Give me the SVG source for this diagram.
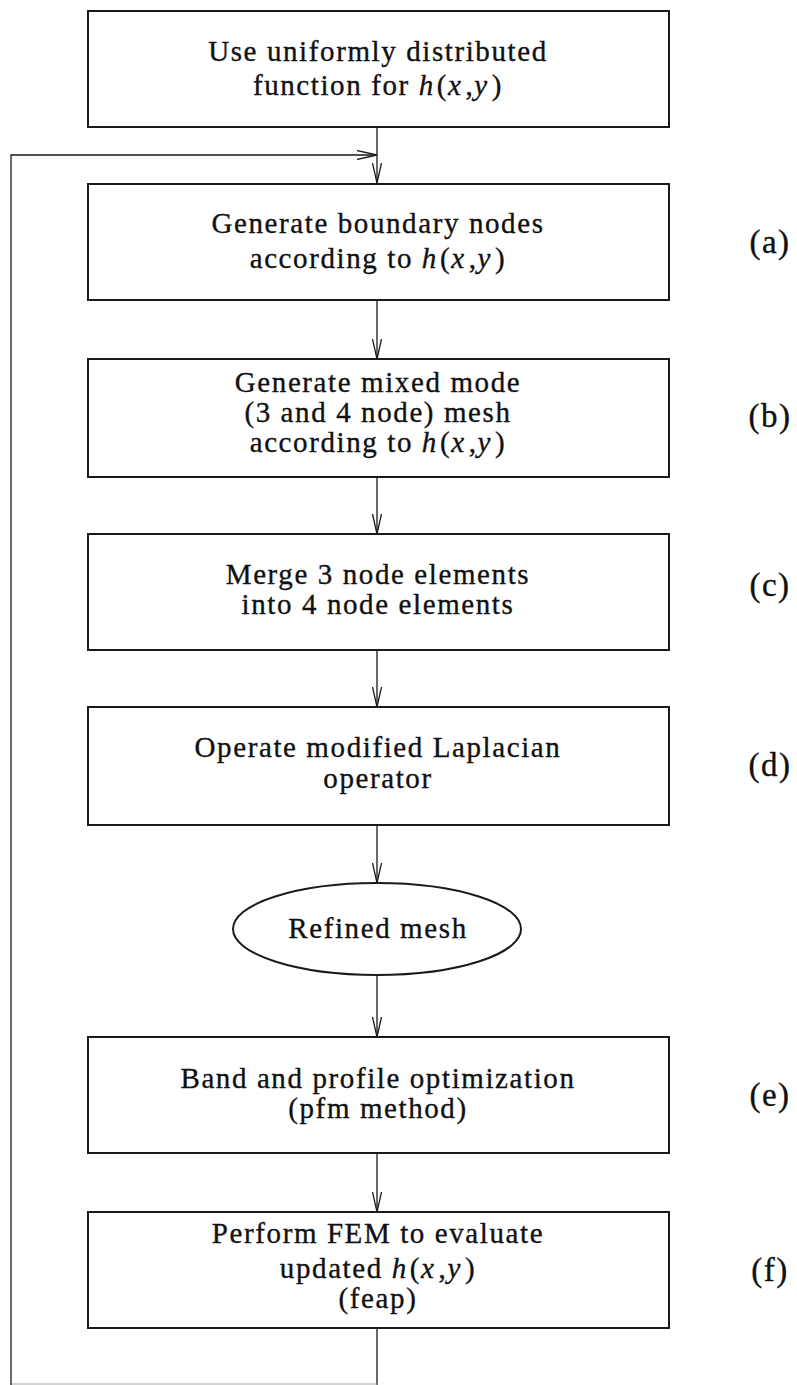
<svg xmlns="http://www.w3.org/2000/svg" width="797" height="1385" viewBox="0 0 797 1385">
  <style>
    .box { fill: #fff; stroke: #1a1a1a; stroke-width: 2; }
    .conn { fill: none; stroke: #1a1a1a; stroke-width: 1.3; }
    .faint { fill: none; stroke: #a8a8a8; stroke-width: 1.2; }
    .t { font-family: "Liberation Serif", "Times New Roman", serif; font-size: 29px; letter-spacing: 1.6px; fill: #111; stroke: #111; stroke-width: 0.35; text-anchor: middle; }
    .lbl { font-family: "Liberation Serif", "Times New Roman", serif; font-size: 33px; letter-spacing: 1.5px; fill: #111; stroke: #111; stroke-width: 0.35; text-anchor: middle; }
    .i { font-style: italic; }
  </style>
  <defs>
    <marker id="vee" viewBox="0 0 20 10" refX="20" refY="5" markerWidth="20" markerHeight="10" markerUnits="userSpaceOnUse" orient="auto">
      <path d="M0,0.5 L20,5 L0,9.5" fill="none" stroke="#1a1a1a" stroke-width="1.3"/>
    </marker>
  </defs>
  <rect width="797" height="1385" fill="#fff"/>

  <!-- connectors: main chain, then the feedback loop on the left -->
  <g id="connectors">
    <line class="conn" x1="377" y1="127" x2="377" y2="183" marker-end="url(#vee)"/>
    <line class="conn" x1="377" y1="300" x2="377" y2="359" marker-end="url(#vee)"/>
    <line class="conn" x1="377" y1="477" x2="377" y2="534" marker-end="url(#vee)"/>
    <line class="conn" x1="377" y1="650" x2="377" y2="707" marker-end="url(#vee)"/>
    <line class="conn" x1="377" y1="825" x2="377" y2="883" marker-end="url(#vee)"/>
    <line class="conn" x1="377" y1="975" x2="377" y2="1037" marker-end="url(#vee)"/>
    <line class="conn" x1="377" y1="1153" x2="377" y2="1212" marker-end="url(#vee)"/>
    <polyline class="conn" points="377,1328 377,1385"/>
    <line class="faint" x1="11" y1="1384" x2="377" y2="1384"/>
    <polyline class="conn" points="11,1385 11,155 377,155" marker-end="url(#vee)"/>
  </g>

  <g id="start">
    <rect class="box" x="88" y="11" width="581" height="116"/>
    <text class="t" x="378" y="61">Use uniformly distributed</text>
    <text class="t" x="378" y="95">function for <tspan class="i">h</tspan><tspan dx="2">(</tspan><tspan class="i">x</tspan><tspan dx="3">,</tspan><tspan class="i">y</tspan><tspan dx="3">)</tspan></text>
  </g>

  <g id="step-a">
    <rect class="box" x="88" y="184" width="581" height="116"/>
    <text class="t" x="378" y="233">Generate boundary nodes</text>
    <text class="t" x="378" y="268">according to <tspan class="i">h</tspan><tspan dx="2">(</tspan><tspan class="i">x</tspan><tspan dx="3">,</tspan><tspan class="i">y</tspan><tspan dx="3">)</tspan></text>
    <text class="lbl" x="770" y="253">(a)</text>
  </g>

  <g id="step-b">
    <rect class="box" x="88" y="359" width="581" height="118"/>
    <text class="t" x="378" y="392">Generate mixed mode</text>
    <text class="t" x="378" y="422">(3 and 4 node) mesh</text>
    <text class="t" x="378" y="452">according to <tspan class="i">h</tspan><tspan dx="2">(</tspan><tspan class="i">x</tspan><tspan dx="3">,</tspan><tspan class="i">y</tspan><tspan dx="3">)</tspan></text>
    <text class="lbl" x="770" y="427">(b)</text>
  </g>

  <g id="step-c">
    <rect class="box" x="88" y="534" width="581" height="116"/>
    <text class="t" x="378" y="584">Merge 3 node elements</text>
    <text class="t" x="378" y="614">into 4 node elements</text>
    <text class="lbl" x="770" y="596">(c)</text>
  </g>

  <g id="step-d">
    <rect class="box" x="88" y="707" width="581" height="118"/>
    <text class="t" x="378" y="757">Operate modified Laplacian</text>
    <text class="t" x="378" y="788">operator</text>
    <text class="lbl" x="770" y="776">(d)</text>
  </g>

  <g id="refined-mesh">
    <ellipse class="box" cx="377" cy="929" rx="144" ry="46"/>
    <text class="t" x="378" y="938">Refined mesh</text>
  </g>

  <g id="step-e">
    <rect class="box" x="88" y="1037" width="581" height="116"/>
    <text class="t" x="378" y="1088">Band and profile optimization</text>
    <text class="t" x="378" y="1118">(pfm method)</text>
    <text class="lbl" x="770" y="1106">(e)</text>
  </g>

  <g id="step-f">
    <rect class="box" x="88" y="1212" width="581" height="116"/>
    <text class="t" x="378" y="1243">Perform FEM to evaluate</text>
    <text class="t" x="378" y="1278">updated <tspan class="i">h</tspan><tspan dx="2">(</tspan><tspan class="i">x</tspan><tspan dx="3">,</tspan><tspan class="i">y</tspan><tspan dx="3">)</tspan></text>
    <text class="t" x="378" y="1308">(feap)</text>
    <text class="lbl" x="770" y="1281">(f)</text>
  </g>
</svg>
